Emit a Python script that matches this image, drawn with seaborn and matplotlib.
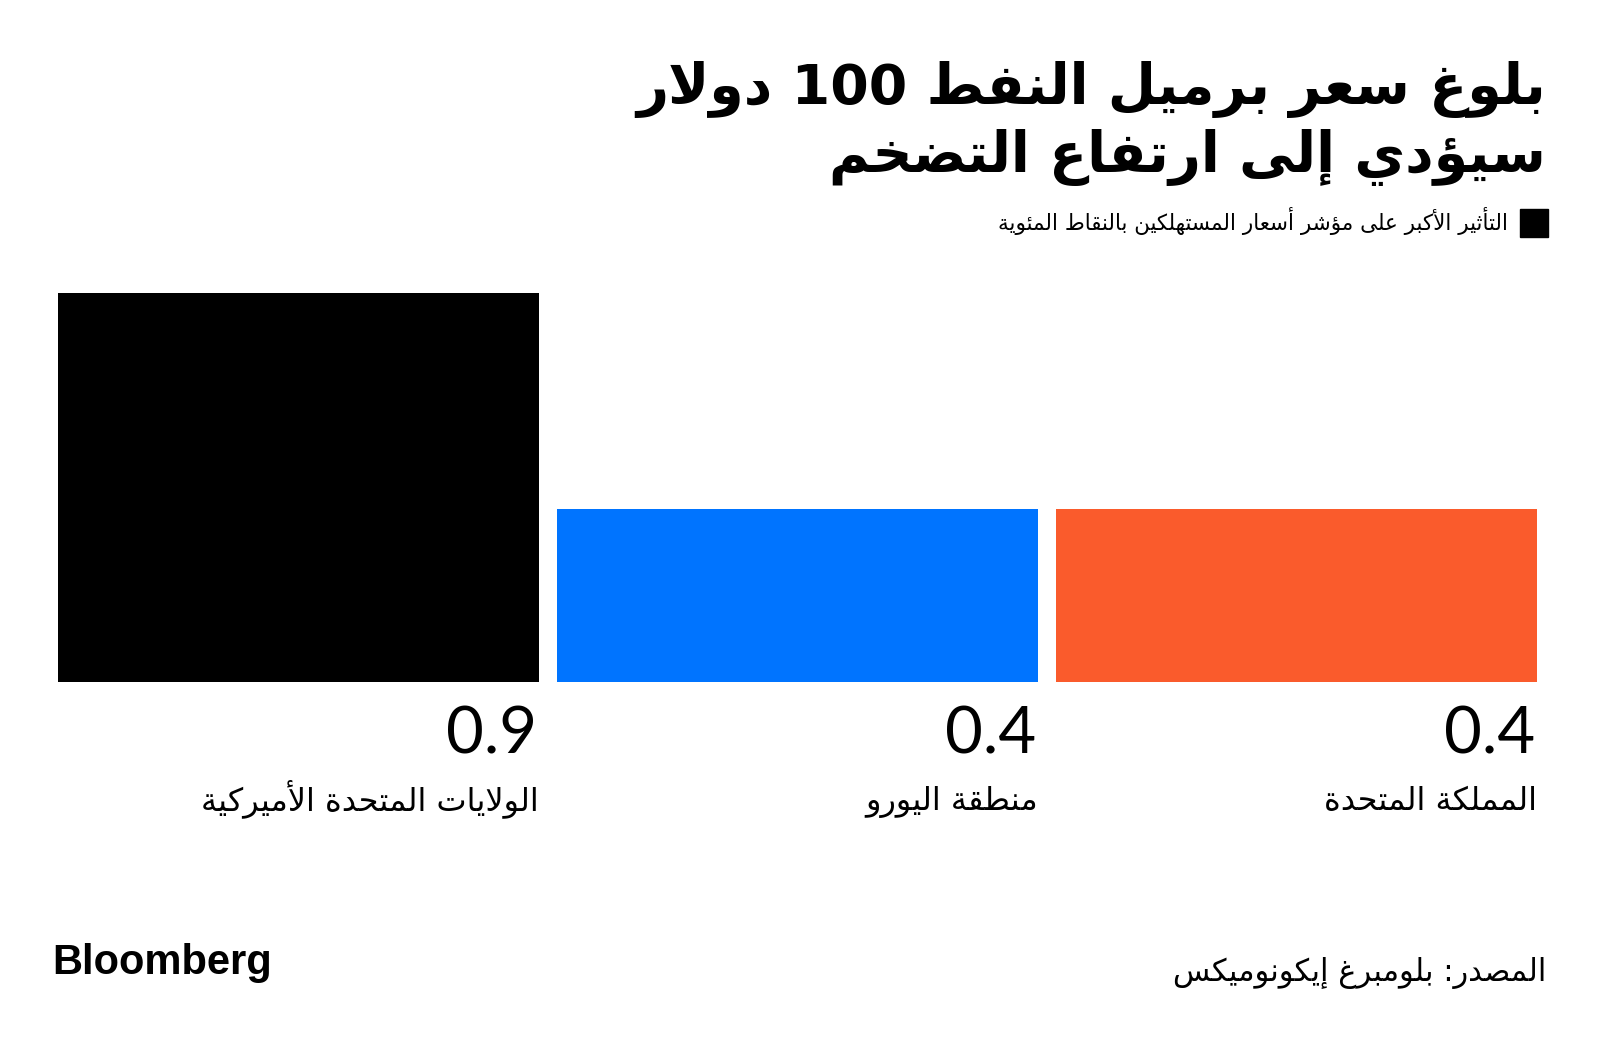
import re
import matplotlib
matplotlib.use("Agg")
import matplotlib.pyplot as plt
import seaborn as sns

# data (visual order, left to right)
countries = ["الولايات المتحدة الأميركية", "منطقة اليورو", "المملكة المتحدة"]
cpi_impact = [0.9, 0.4, 0.4]
value_labels = ["0.9", "0.4", "0.4"]
bar_colors = ["#000000", "#0074ff", "#fa5b2c"]

title_lines = ["بلوغ سعر برميل النفط 100 دولار", "سيؤدي إلى ارتفاع التضخم"]
legend_text = "التأثير الأكبر على مؤشر أسعار المستهلكين بالنقاط المئوية"
source_text = "المصدر: بلومبرغ إيكونوميكس"

# --- minimal arabic shaping (matplotlib does no shaping / bidi) ---
FORMS = {}
cp = 0xFE80
for ch, n in zip("ءآأؤإئابةتثجحخدذرزسشصضطظعغفقكلمنهوىي",
                 [1, 2, 2, 2, 2, 4, 2, 4, 2, 4, 4, 4, 4, 4, 2, 2, 2, 2,
                  4, 4, 4, 4, 4, 4, 4, 4, 4, 4, 4, 4, 4, 4, 4, 2, 2, 4]):
    FORMS[ch] = [chr(cp + i) for i in range(n)]
    cp += n
LAM_ALEF = {"آ": 0xFEF5, "أ": 0xFEF7, "إ": 0xFEF9, "ا": 0xFEFB}


def ar(text):
    units = []
    i = 0
    while i < len(text):
        c = text[i]
        if c == "ل" and i + 1 < len(text) and text[i + 1] in LAM_ALEF:
            base = LAM_ALEF[text[i + 1]]
            units.append([chr(base), chr(base + 1)])
            i += 2
        else:
            units.append(FORMS.get(c, c))
            i += 1
    out = []
    for k, u in enumerate(units):
        if isinstance(u, str):
            out.append(u)
            continue
        prev = units[k - 1] if k > 0 else None
        nxt = units[k + 1] if k + 1 < len(units) else None
        p = isinstance(prev, list) and len(prev) == 4
        n = len(u) == 4 and isinstance(nxt, list) and len(nxt) > 1
        if len(u) == 4:
            out.append(u[3] if p and n else u[2] if n else u[1] if p else u[0])
        elif len(u) == 2:
            out.append(u[1] if p else u[0])
        else:
            out.append(u[0])
    vis = "".join(out)[::-1]
    return re.sub(r"[0-9.]+", lambda m: m.group()[::-1], vis)


sns.set_theme(style="white")
plt.rcParams["font.family"] = ["DejaVu Sans"]

W, H = 1600, 1041
fig = plt.figure(figsize=(16, 10.41), dpi=100)
fig.patch.set_facecolor("white")

bar_w = 481 / 499
left_px, right_px = 58, 1537
bottom_px, top_px = 682, 293
ax = fig.add_axes([left_px / W, 1 - bottom_px / H,
                   (right_px - left_px) / W, (bottom_px - top_px) / H])

sns.barplot(x=[ar(c) for c in countries], y=cpi_impact, hue=[ar(c) for c in countries],
            palette=bar_colors, saturation=1, width=bar_w, linewidth=0,
            legend=False, ax=ax)
ax.set_xlim(-bar_w / 2, 2 + bar_w / 2)
ax.set_ylim(0, 0.9)
ax.axis("off")

# values and category names under each bar, right aligned to the bar edge
for i, (lab, name) in enumerate(zip(value_labels, countries)):
    xr = i + bar_w / 2
    ax.annotate(lab, xy=(xr, 0), xycoords="data", xytext=(-2, -(753 - 682)),
                textcoords="offset pixels", ha="right", va="baseline",
                fontsize=47, fontfamily="Lato", fontweight="normal", color="black")
    ax.annotate(ar(name), xy=(xr, 0), xycoords="data", xytext=(0, -(810 - 682)),
                textcoords="offset pixels", ha="right", va="baseline",
                fontsize=23, color="black")

# title
fig.text(1546 / W, 1 - 104 / H, ar(title_lines[0]), ha="right", va="baseline",
         fontsize=40, fontweight="bold", color="black")
fig.text(1546 / W, 1 - 172 / H, ar(title_lines[1]), ha="right", va="baseline",
         fontsize=40, fontweight="bold", color="black")

# legend swatch + text
fig.patches.append(plt.Rectangle((1520 / W, 1 - 237 / H), 28 / W, 28 / H,
                                 transform=fig.transFigure, color="black"))
fig.text(1508 / W, 1 - 230 / H, ar(legend_text), ha="right", va="baseline",
         fontsize=15.5, color="black")

# footer
fig.text(1546 / W, 1 - 981 / H, ar(source_text), ha="right", va="baseline",
         fontsize=22, color="black")
fig.text(52 / W, 1 - 974 / H, "Bloomberg", ha="left", va="baseline",
         fontsize=30, fontweight="bold", fontfamily="Liberation Sans", color="black")

fig.savefig("out.png", dpi=100, facecolor="white")
